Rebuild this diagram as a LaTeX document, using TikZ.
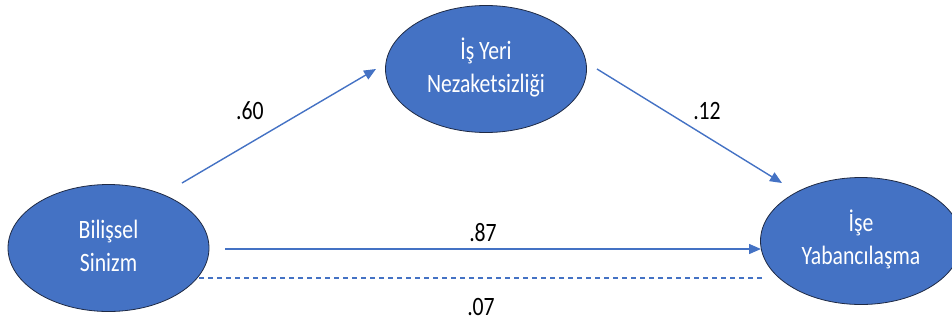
\documentclass[tikz,border=0pt]{standalone}
\usepackage{fontspec}
\setmainfont{Carlito}
\usetikzlibrary{shapes.geometric,arrows.meta}
\definecolor{vfill}{HTML}{4472C4}
\definecolor{vedge}{HTML}{1F2A44}
\newcommand{\vtxt}[1]{\scalebox{0.82}[1]{\begin{tabular}{@{}c@{}}#1\end{tabular}}}
\newcommand{\ltxt}[1]{\scalebox{0.82}[1]{#1}}
\begin{document}
\begin{tikzpicture}[x=1pt,y=-1pt,
  var/.style={ellipse, fill=vfill, draw=vedge, line width=0.8pt, minimum width=201pt, minimum height=127pt, inner sep=0pt, text=white, font=\fontsize{26.5}{33}\selectfont},
  arr/.style={draw=vfill, line width=1.4pt, -{Triangle[length=12pt,width=10pt]}},
  dline/.style={draw=vfill, line width=1.4pt, dash pattern=on 5pt off 4pt},
  lab/.style={text=black, font=\fontsize{26.5}{33}\selectfont, inner sep=0pt}]
\useasboundingbox (0,0) rectangle (952,322);
\node[var] (bs) at (108.5,248) {\vtxt{Bilişsel\\Sinizm}};
\node[var] (iy) at (486,69) {\vtxt{İş Yeri\\Nezaketsizliği}};
\node[var] (yb) at (861,241) {\vtxt{İşe\\Yabancılaşma}};
\coordinate (a1) at (182,183);
\coordinate (a2) at (376,69);
\coordinate (b1) at (597,69);
\coordinate (b2) at (782,183);
\coordinate (c1) at (225,249);
\coordinate (c2) at (761,249);
\coordinate (d1) at (199,278);
\coordinate (d2) at (762,278);
\draw[arr] (a1) -- (a2);
\draw[arr] (b1) -- (b2);
\draw[arr] (c1) -- (c2);
\draw[dline] (d1) -- (d2);
\node[lab] (l60) at (250,111) {\ltxt{.60}};
\node[lab] (l12) at (707,111) {\ltxt{.12}};
\node[lab] (l87) at (483,233) {\ltxt{.87}};
\node[lab] (l07) at (481,307) {\ltxt{.07}};
\end{tikzpicture}
\end{document}
